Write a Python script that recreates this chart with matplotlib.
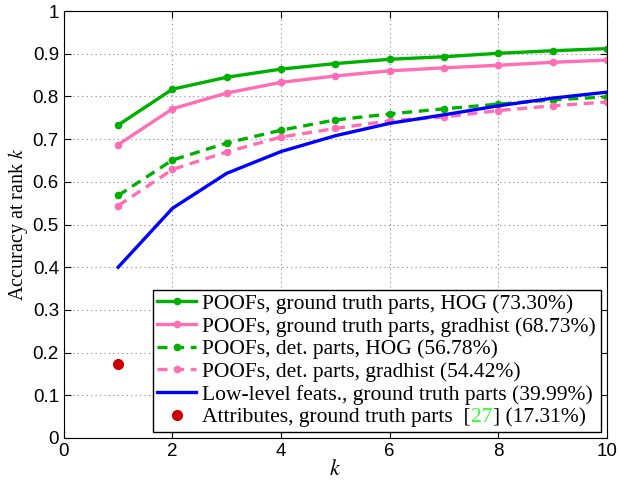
import matplotlib
matplotlib.use("Agg")
import matplotlib.pyplot as plt

k = [1, 2, 3, 4, 5, 6, 7, 8, 9, 10]

poof_gt_hog = [0.733, 0.817, 0.845, 0.864, 0.877, 0.887, 0.893, 0.901, 0.907, 0.912]
poof_gt_grad = [0.687, 0.771, 0.808, 0.833, 0.848, 0.860, 0.867, 0.873, 0.880, 0.885]
poof_det_hog = [0.568, 0.651, 0.691, 0.721, 0.745, 0.759, 0.771, 0.782, 0.792, 0.799]
poof_det_grad = [0.544, 0.629, 0.670, 0.705, 0.725, 0.743, 0.752, 0.767, 0.778, 0.787]
lowlevel = [0.400, 0.538, 0.620, 0.671, 0.708, 0.737, 0.757, 0.778, 0.796, 0.810]
attr_k = [1]
attr = [0.1731]

labels = [
    "POOFs, ground truth parts, HOG (73.30%)",
    "POOFs, ground truth parts, gradhist (68.73%)",
    "POOFs, det. parts, HOG (56.78%)",
    "POOFs, det. parts, gradhist (54.42%)",
    "Low-level feats., ground truth parts (39.99%)",
    "Attributes, ground truth parts  [",
]

green = "#00b000"
pink = "#ff6eb4"
blue = "#0000ff"
red = "#cc0000"

serif = ["Liberation Serif", "DejaVu Serif"]
plt.rcParams["font.family"] = ["Liberation Sans", "DejaVu Sans"]
plt.rcParams["mathtext.fontset"] = "stix"

fig = plt.figure(figsize=(6.2, 4.8), dpi=100)
ax = fig.add_axes([0.103, 0.0875, 0.876, 0.8895])

lw = 2.4
ax.plot(k, poof_gt_hog, color=green, lw=lw, marker="o", ms=4.5, label=labels[0])
ax.plot(k, poof_gt_grad, color=pink, lw=lw, marker="o", ms=4.5, label=labels[1])
ax.plot(k, poof_det_hog, color=green, lw=lw, marker="o", ms=4.5,
        dashes=(3, 2), label=labels[2])
ax.plot(k, poof_det_grad, color=pink, lw=lw, marker="o", ms=4.5,
        dashes=(3, 2), label=labels[3])
ax.plot(k, lowlevel, color=blue, lw=lw, label=labels[4])
ax.plot(attr_k, attr, color=red, ls="none", marker="o", ms=7, label=labels[5])

ax.set_xlim(0, 10)
ax.set_ylim(0, 1)
ax.set_xticks(range(0, 11, 2))
ax.set_yticks([i / 10 for i in range(11)])
ax.set_yticklabels(["0", "0.1", "0.2", "0.3", "0.4", "0.5", "0.6", "0.7", "0.8", "0.9", "1"])
ax.tick_params(direction="in", top=True, right=True, labelsize=13.5, length=5)
ax.grid(True, ls=(0, (1, 3)), color="#888888", lw=0.8)
ax.set_axisbelow(True)

ax.set_ylabel("Accuracy at rank $k$", fontsize=14.5, family=serif, labelpad=2)
ax.set_xlabel("$k$", fontsize=16, family=serif, labelpad=0)

fs = 15.5
leg = ax.legend(loc="lower right", prop={"family": serif, "size": fs},
                fancybox=False, edgecolor="black", framealpha=1,
                handlelength=1.8, handletextpad=0.3, borderaxespad=0.3,
                labelspacing=0.12, borderpad=0.2)
leg.get_frame().set_linewidth(1.0)

last = leg.get_texts()[-1]
t27 = ax.annotate("27", xy=(1, 0), xycoords=last, va="bottom", ha="left",
                  color="#33ff33", family=serif, fontsize=fs, zorder=10)
ax.annotate("] (17.31%)", xy=(1, 0), xycoords=t27, va="bottom", ha="left",
            family=serif, fontsize=fs, zorder=10)

fig.savefig("out.png", dpi=100)
